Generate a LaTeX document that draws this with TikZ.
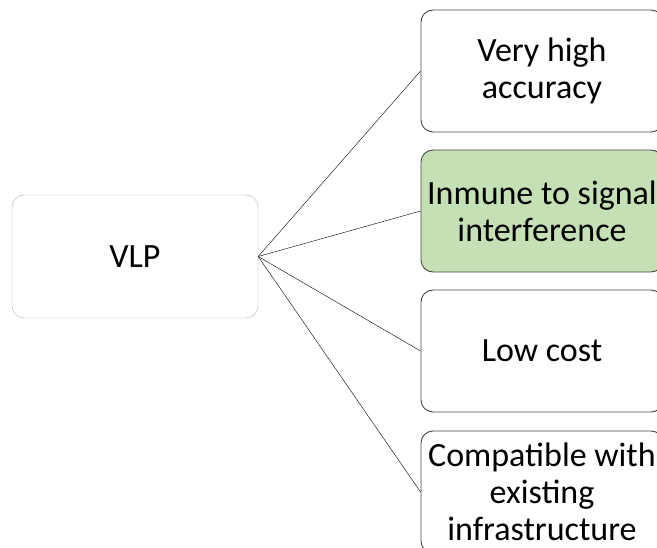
\documentclass[tikz,border=0pt]{standalone}
\usepackage{fontspec}
\setmainfont{Carlito}
\usetikzlibrary{positioning}
\definecolor{boxgreen}{RGB}{197,224,180}
\definecolor{edgegray}{RGB}{70,70,70}

\begin{document}
\begin{tikzpicture}[x=1pt, y=-1pt,
  rootbox/.style={draw=gray!60, rounded corners=12pt, minimum width=246pt, minimum height=123pt, align=center, font=\fontsize{34}{37}\selectfont},
  leafbox/.style={draw=edgegray, line width=0.9pt, rounded corners=12pt, minimum width=242pt, minimum height=122pt, align=center, font=\fontsize{34}{37}\selectfont}]
\useasboundingbox (0,0) rectangle (657,548);
\node[rootbox] (vlp) at (135,256.5) {VLP};
\node[leafbox] (acc) at (542,71) {Very high\\accuracy};
\node[leafbox, fill=boxgreen] (imm) at (542,211) {Inmune to signal\\interference};
\node[leafbox] (cost) at (542,351) {Low cost};
\node[leafbox] (comp) at (542,492) {Compatible with\\existing\\infrastructure};
\foreach \n in {acc,imm,cost,comp} {
 \draw[black, thin] (vlp.east) -- (\n.west);
}
\end{tikzpicture}
\end{document}
